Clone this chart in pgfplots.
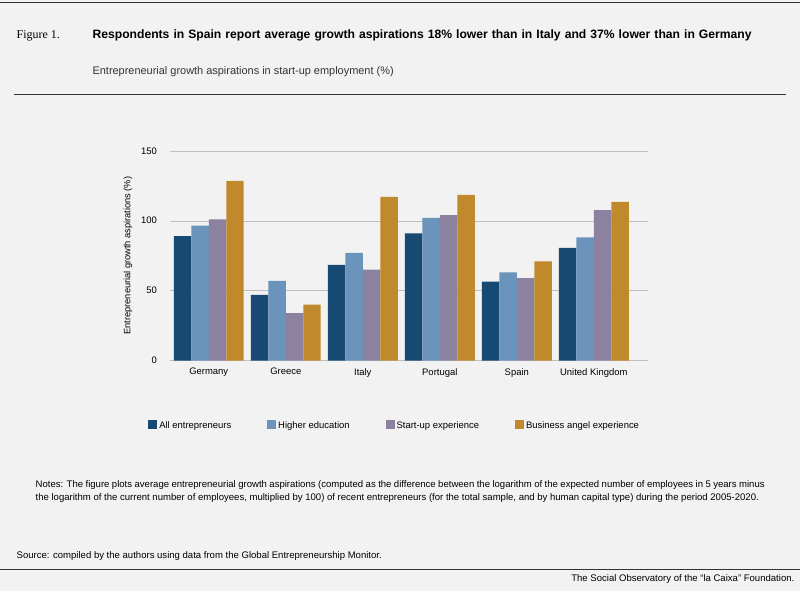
\documentclass[border=0pt]{standalone}
\usepackage{pgfplots}
\pgfplotsset{compat=1.18}
\usepackage{fontspec}
\setmainfont{Liberation Sans}
\newfontfamily\seriff{Liberation Serif}
\definecolor{bg}{HTML}{F2F2F2}
\definecolor{cA}{HTML}{174A73}
\definecolor{cB}{HTML}{6A94BC}
\definecolor{cC}{HTML}{8C82A0}
\definecolor{cD}{HTML}{C0892B}
\begin{document}
\begin{tikzpicture}[x=1bp,y=1bp]
\fill[bg] (0,0) rectangle (800,592);
\draw[line width=1bp,black!80] (0,589) -- (800,589);
\node[anchor=north west,inner sep=0pt,font=\seriff\fontsize{12}{14}\selectfont] at (16,562) {Figure 1.};
\node[anchor=north west,align=left,text width=690bp,inner sep=0pt,font=\bfseries\fontsize{12.2}{15}\selectfont] at (92,562) {Respondents in Spain report average growth aspirations 18\% lower than in Italy and 37\% lower than in Germany};
\node[anchor=north west,inner sep=0pt,font=\fontsize{11}{13}\selectfont,text=black!80] at (92,526) {Entrepreneurial growth aspirations in start-up employment (\%)};
\draw[line width=1bp,black!80] (14,497) -- (786,497);
\begin{axis}[at={(170bp,231bp)},anchor=south west,scale only axis,width=478bp,height=210bp,
 ymin=0,ymax=150,xmin=-0.5,xmax=5.7,ytick={0,50,100,150},
 xtick={0,...,5},xticklabels={Germany,Greece,Italy,Portugal,Spain,United Kingdom},
 axis line style={draw=none},tick style={draw=none},
 ymajorgrids,grid style={black!25},
 ybar=0pt,bar width=17.5bp,
 ylabel={Entrepreneurial growth aspirations (\%)},ylabel style={font=\fontsize{9.3}{11}\selectfont,yshift=2bp},
 ticklabel style={font=\fontsize{9.5}{11}\selectfont},
 yticklabel style={xshift=-10bp},
 /pgf/number format/assume math mode=true,
 legend style={at={(0.47,-0.27)},anchor=north,draw=none,fill=none,legend columns=4,font=\fontsize{9.5}{11}\selectfont,/tikz/every even column/.append style={column sep=34bp}},
 legend image code/.code={\fill[#1] (0,-3.5bp) rectangle (9bp,5.5bp);}]
\addplot[fill=cA,draw=none] coordinates {(0,89) (1,47) (2,68.5) (3,91) (4,56.5) (5,80.5)};
\addplot[fill=cB,draw=none] coordinates {(0,96.5) (1,57) (2,77) (3,102) (4,63) (5,88)};
\addplot[fill=cC,draw=none] coordinates {(0,101) (1,34) (2,65) (3,104) (4,59) (5,107.5)};
\addplot[fill=cD,draw=none] coordinates {(0,128.5) (1,40) (2,117) (3,118.5) (4,71) (5,113.5)};
\legend{All entrepreneurs,Higher education,Start-up experience,Business angel experience}
\end{axis}
\node[anchor=north west,text width=730bp,align=justify,inner sep=0pt,font=\fontsize{9.6}{13.5}\selectfont] at (35,111) {Notes: The figure plots average entrepreneurial growth aspirations (computed as the difference between the logarithm of the expected number of employees in 5 years minus the logarithm of the current number of employees, multiplied by 100) of recent entrepreneurs (for the total sample, and by human capital type) during the period 2005-2020.};
\node[anchor=west,inner sep=0pt,font=\fontsize{9.6}{11}\selectfont] at (16,35) {Source: compiled by the authors using data from the Global Entrepreneurship Monitor.};
\draw[line width=0.8bp,black!80] (0,22) -- (800,22);
\node[anchor=east,inner sep=0pt,font=\fontsize{9.6}{11}\selectfont] at (795,12) {The Social Observatory of the “la Caixa” Foundation.};
\end{tikzpicture}
\end{document}
